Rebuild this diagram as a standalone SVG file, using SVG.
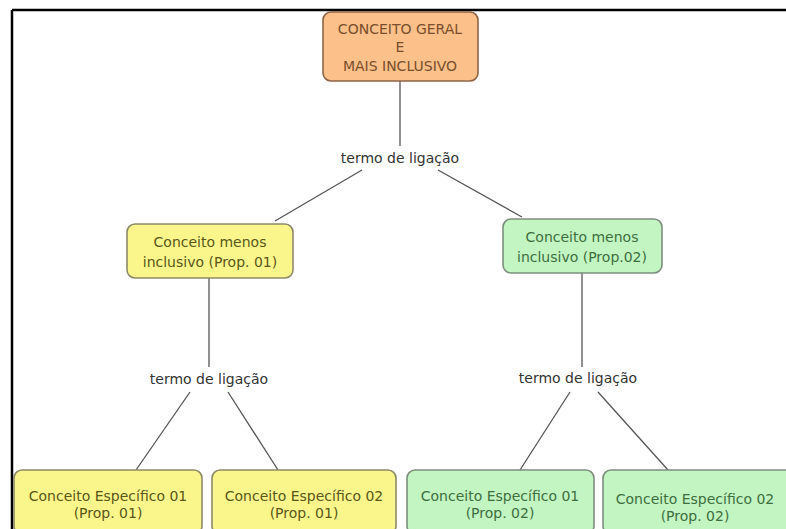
<svg xmlns="http://www.w3.org/2000/svg" width="786" height="529" viewBox="0 0 786 529">
<style>
text{font-family:"DejaVu Sans",Verdana,sans-serif;font-size:14px;text-anchor:middle}
.box{stroke-width:1.6}
.y{fill:#FBF68C;stroke:#8C8A6A}
.g{fill:#C2F5C2;stroke:#7E8E7E}
.o{fill:#FCC08A;stroke:#8E6446}
.ty{fill:#5A5618}
.tg{fill:#3E6E3E}
.to{fill:#7A4E2A}
.lbl{fill:#333}
.c{stroke:#555;stroke-width:1.3;fill:none}
</style>
<rect width="786" height="529" fill="#fff"/>
<path d="M12 10H786M12 10V529" stroke="#000" stroke-width="2.5" fill="none"/>
<g id="connectors">
<path class="c" d="M400 81V146"/>
<path class="c" d="M362 170L275 221"/>
<path class="c" d="M438 170L522 217"/>
<path class="c" d="M209 278V367"/>
<path class="c" d="M190 392L136 470"/>
<path class="c" d="M228 392L278 470"/>
<path class="c" d="M582 273V367"/>
<path class="c" d="M570 392L520 470"/>
<path class="c" d="M598 392L668 470"/>
</g>
<g id="n0"><rect class="box o" x="323" y="12" width="155" height="69" rx="8"/>
<text class="to" x="400" y="34">CONCEITO GERAL</text><text class="to" x="400" y="52">E</text><text class="to" x="400" y="71">MAIS INCLUSIVO</text></g>
<g id="l0"><text class="lbl" x="400" y="163">termo de ligação</text></g>
<g id="n1"><rect class="box y" x="127" y="224" width="166" height="54" rx="8"/>
<text class="ty" x="210" y="247">Conceito menos</text><text class="ty" x="210" y="267">inclusivo (Prop. 01)</text></g>
<g id="n2"><rect class="box g" x="503" y="219" width="159" height="54" rx="8"/>
<text class="tg" x="582" y="242">Conceito menos</text><text class="tg" x="582" y="262">inclusivo (Prop.02)</text></g>
<g id="l1"><text class="lbl" x="209" y="384">termo de ligação</text></g>
<g id="l2"><text class="lbl" x="578" y="383">termo de ligação</text></g>
<g id="n3"><rect class="box y" x="14" y="470" width="188" height="64" rx="8"/>
<text class="ty" x="108" y="501">Conceito Específico 01</text><text class="ty" x="108" y="518">(Prop. 01)</text></g>
<g id="n4"><rect class="box y" x="212" y="470" width="184" height="64" rx="8"/>
<text class="ty" x="304" y="501">Conceito Específico 02</text><text class="ty" x="304" y="518">(Prop. 01)</text></g>
<g id="n5"><rect class="box g" x="407" y="470" width="187" height="64" rx="8"/>
<text class="tg" x="500" y="501">Conceito Específico 01</text><text class="tg" x="500" y="518">(Prop. 02)</text></g>
<g id="n6"><rect class="box g" x="603" y="470" width="190" height="64" rx="8"/>
<text class="tg" x="695" y="504">Conceito Específico 02</text><text class="tg" x="695" y="521">(Prop. 02)</text></g>
</svg>
